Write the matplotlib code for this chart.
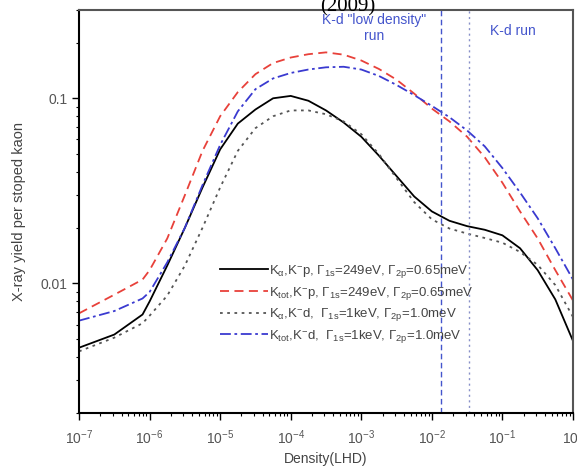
import numpy as np
import matplotlib
matplotlib.use("Agg")
import matplotlib.pyplot as plt
from matplotlib.ticker import LogLocator, FixedLocator, FixedFormatter, NullFormatter

plt.rcParams['font.family'] = ['Liberation Sans', 'DejaVu Sans']
plt.rcParams['mathtext.fontset'] = 'custom'
plt.rcParams['mathtext.rm'] = 'Liberation Sans'
plt.rcParams['mathtext.it'] = 'Liberation Sans:italic'
plt.rcParams['mathtext.default'] = 'regular'

# density (LHD), log10 values
log_density = [-7, -6.5, -6.1, -6, -5.75, -5.5, -5.25, -5, -4.75, -4.5, -4.25, -4,
               -3.75, -3.5, -3.25, -3, -2.75, -2.5, -2.25, -2, -1.75, -1.5, -1.25,
               -1, -0.75, -0.5, -0.25, 0]

ka_kp = [0.0045, 0.0053, 0.0068, 0.0080, 0.0125, 0.020, 0.033, 0.053, 0.073, 0.087,
         0.100, 0.103, 0.097, 0.086, 0.074, 0.062, 0.049, 0.038, 0.0295, 0.0245,
         0.0218, 0.0204, 0.0195, 0.0182, 0.0155, 0.0118, 0.0082, 0.0049]

kb_kp = [0.0069, 0.0087, 0.0105, 0.0118, 0.0175, 0.030, 0.052, 0.080, 0.108, 0.135,
         0.155, 0.166, 0.173, 0.177, 0.172, 0.160, 0.144, 0.126, 0.106, 0.088,
         0.075, 0.062, 0.048, 0.035, 0.0245, 0.0175, 0.0118, 0.0081]

ka_kd = [0.0043, 0.0051, 0.0061, 0.0067, 0.0086, 0.0125, 0.020, 0.033, 0.052, 0.069,
         0.080, 0.086, 0.086, 0.082, 0.075, 0.064, 0.050, 0.037, 0.0275, 0.0222,
         0.0198, 0.0186, 0.0176, 0.0166, 0.0148, 0.0126, 0.0098, 0.0066]

kb_kd = [0.0063, 0.0071, 0.0083, 0.0090, 0.013, 0.020, 0.034, 0.056, 0.085, 0.112,
         0.128, 0.137, 0.143, 0.147, 0.148, 0.143, 0.132, 0.118, 0.104, 0.091,
         0.079, 0.067, 0.055, 0.042, 0.031, 0.0225, 0.0155, 0.0105]

labels = [r'K$_{\alpha}$,K$^{-}$p, Γ$_{1s}$=249eV, Γ$_{2p}$=0.65meV',
          r'K$_{tot}$,K$^{-}$p, Γ$_{1s}$=249eV, Γ$_{2p}$=0.65meV',
          r'K$_{\alpha}$,K$^{-}$d,  Γ$_{1s}$=1keV, Γ$_{2p}$=1.0meV',
          r'K$_{tot}$,K$^{-}$d,  Γ$_{1s}$=1keV, Γ$_{2p}$=1.0meV']

run_lines = [0.0135, 0.0336]
x_ticks = [1e-7, 1e-6, 1e-5, 1e-4, 1e-3, 1e-2, 1e-1, 1]
x_ticklabels = [r'10$^{-7}$', r'10$^{-6}$', r'10$^{-5}$', r'10$^{-4}$',
                r'10$^{-3}$', r'10$^{-2}$', r'10$^{-1}$', r'10$^{0}$']
y_ticks = [0.01, 0.1]
y_ticklabels = ['0.01', '0.1']

x = 10.0 ** np.array(log_density)

fig = plt.figure(figsize=(5.77, 4.73), dpi=100)
ax = fig.add_axes([0.137, 0.127, 0.856, 0.852])

ax.plot(x, ka_kp, color='black', lw=1.3, ls='-', label=labels[0])
ax.plot(x, kb_kp, color='#e8413a', lw=1.3, ls=(0, (5, 3)), label=labels[1])
ax.plot(x, ka_kd, color='#555555', lw=1.3, ls=(0, (1.5, 2.5)), label=labels[2])
ax.plot(x, kb_kd, color='#3a3ad0', lw=1.3, ls=(0, (6, 2, 1.5, 2)), label=labels[3])

ax.axvline(run_lines[0], color='#4455cc', lw=1.0, ls=(0, (4, 2.5)))
ax.axvline(run_lines[1], color='#8890c8', lw=1.0, ls=(0, (1.5, 2.5)))

ax.set_xscale('log')
ax.set_yscale('log')
ax.set_xlim(1e-7, 1)
ax.set_ylim(0.002, 0.3)

ax.xaxis.set_major_locator(FixedLocator(x_ticks))
ax.xaxis.set_major_formatter(FixedFormatter(x_ticklabels))
ax.xaxis.set_minor_locator(LogLocator(base=10, subs=np.arange(2, 10), numticks=20))
ax.xaxis.set_minor_formatter(NullFormatter())
ax.yaxis.set_major_locator(FixedLocator(y_ticks))
ax.yaxis.set_major_formatter(FixedFormatter(y_ticklabels))
ax.yaxis.set_minor_locator(LogLocator(base=10, subs=np.arange(2, 10), numticks=20))
ax.yaxis.set_minor_formatter(NullFormatter())

ax.tick_params(which='major', direction='out', length=5, width=1.0, labelsize=10,
               labelcolor='#555555')
ax.tick_params(which='minor', direction='out', length=2.5, width=0.8)
ax.tick_params(axis='x', pad=6)
for s in ax.spines.values():
    s.set_linewidth(1.5)
ax.spines['top'].set_color('#555555')
ax.spines['right'].set_color('#555555')

ax.set_xlabel('Density(LHD)', fontsize=10, color='#444444', labelpad=4)
ax.set_ylabel('X-ray yield per stoped kaon', fontsize=10.5, color='#444444', labelpad=10)

ax.text(0.0015, 0.240, 'K-d "low density"\nrun', color='#4455cc', fontsize=10,
        ha='center', va='center', linespacing=1.2)
ax.text(0.141, 0.231, 'K-d run', color='#4455cc', fontsize=10, ha='center', va='center')

fig.text(0.603, 0.986, '(2009)', fontsize=15, family='Liberation Serif',
         ha='center', va='center')

leg = ax.legend(loc='upper left', bbox_to_anchor=(0.275, 0.385), frameon=False,
                fontsize=9.5, handlelength=3.6, handletextpad=0.1,
                labelspacing=0.35, borderaxespad=0)
for t in leg.get_texts():
    t.set_color('#444444')

fig.savefig('out.png', dpi=100)
